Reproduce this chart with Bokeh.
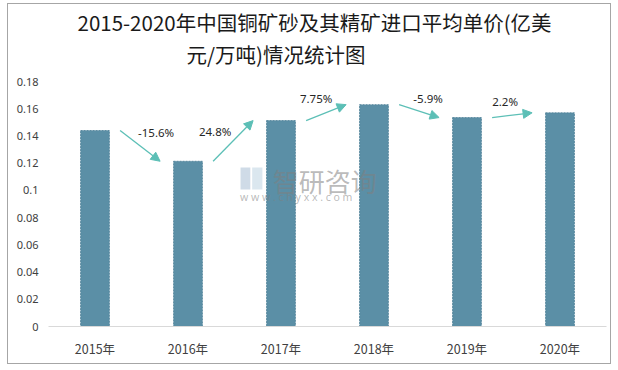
from bokeh.plotting import figure
from bokeh.models import ColumnDataSource, Range1d, FixedTicker, Arrow, NormalHead, Label, Title
from bokeh.core.properties import value
from bokeh.embed import file_html
from bokeh.resources import INLINE

years = ["2015年", "2016年", "2017年", "2018年", "2019年", "2020年"]
prices = [0.144, 0.1214, 0.1513, 0.163, 0.1535, 0.157]
changes = ["-15.6%", "24.8%", "7.75%", "-5.9%", "2.2%"]
y_ticks = [0, 0.02, 0.04, 0.06, 0.08, 0.1, 0.12, 0.14, 0.16, 0.18]
y_tick_labels = ["0", "0.02", "0.04", "0.06", "0.08", "0.1", "0.12", "0.14", "0.16", "0.18"]

title_line1 = "2015-2020年中国铜矿砂及其精矿进口平均单价(亿美"
title_line2 = "元/万吨)情况统计图"

xs = [i + 0.5 for i in range(len(years))]

p = figure(width=604, height=361, output_backend="svg", toolbar_location=None,
           x_range=Range1d(0, len(years)), y_range=Range1d(0, 0.18),
           min_border_left=40, min_border_right=6, min_border_bottom=39, min_border_top=0)
p.styles = {"border": "1px solid #a6a6a6", "margin-left": "7px", "margin-top": "3px"}

def style_title(t, off):
    t.align = "left"
    t.text_font = "Noto Sans CJK SC"
    t.text_font_size = "20.5px"
    t.text_font_style = "normal"
    t.text_color = "#1a1a1a"
    t.standoff = 0
    t.offset = off

p.title.text = title_line1
style_title(p.title, 29)
spacer = Title(text=" ", text_font_size="10px", standoff=0)
p.add_layout(spacer, "above")
t2 = Title(text=title_line2)
style_title(t2, 138)
p.add_layout(t2, "above")

p.outline_line_color = None
p.border_fill_color = "white"
p.grid.visible = False

src = ColumnDataSource(dict(x=xs, top=prices))
p.vbar(x="x", top="top", width=0.31, source=src, fill_color="#5b8fa6",
       line_color="#4b7e95", line_width=0.8, line_dash="2 1")

# x axis
p.xaxis.ticker = FixedTicker(ticks=xs)
p.xaxis.major_label_overrides = {x: y for x, y in zip(xs, years)}
p.xaxis.axis_line_color = "#d9d9d9"
p.xaxis.major_tick_line_color = None
p.xaxis.major_tick_out = 0
p.xaxis.minor_tick_line_color = None
p.xaxis.major_label_text_font = "Noto Sans CJK SC"
p.xaxis.major_label_text_font_size = "12.5px"
p.xaxis.major_label_text_color = "#404040"
p.xaxis.major_label_standoff = 12

# y axis
p.yaxis.ticker = FixedTicker(ticks=y_ticks)
p.yaxis.major_label_overrides = {t: l for t, l in zip(y_ticks, y_tick_labels)}
p.yaxis.axis_line_color = None
p.yaxis.major_tick_line_color = None
p.yaxis.major_tick_out = 0
p.yaxis.minor_tick_line_color = None
p.yaxis.major_label_text_font = "Noto Sans"
p.yaxis.major_label_text_font_size = "11px"
p.yaxis.major_label_text_color = "#404040"
p.yaxis.major_label_standoff = 10

# watermark
p.add_layout(Label(x=2.41, y=0.107, text="智研咨询", text_font="Noto Sans CJK SC",
                   text_font_size="26px", text_color="#7f7f7f", text_alpha=0.55,
                   text_align="left", text_baseline="middle"))
p.add_layout(Label(x=2.06, y=0.0955, text="w w w . c h y x x . c o m", text_font="Noto Sans",
                   text_font_size="10.5px", text_color="#7f7f7f", text_alpha=0.55,
                   text_align="left", text_baseline="middle"))
p.quad(left=[2.065], right=[2.17], bottom=[0.1007], top=[0.1168], fill_color="#9fb8cf", fill_alpha=0.5, line_color=None)
p.quad(left=[2.19], right=[2.30], bottom=[0.1007], top=[0.1168], fill_color="#b8cfe0", fill_alpha=0.5, line_color=None)

# arrows and change labels
teal = "#5cbfb6"
mx, my = [], []
label_dx = [16, -18, -10, 9, -7]
label_dy = [13, 9, 14, 13, 14]
for i in range(len(changes)):
    x0 = xs[i] + 0.27
    x1 = xs[i + 1] - 0.30
    y0 = prices[i]
    y1 = prices[i + 1]
    p.add_layout(Arrow(x_start=x0, y_start=y0, x_end=x1, y_end=y1, line_color=teal, line_width=1.3,
                       end=NormalHead(size=9, fill_color=teal, line_color=teal)))
    mx.append((x0 + x1) / 2)
    my.append((y0 + y1) / 2)

lsrc = ColumnDataSource(dict(x=mx, y=my, t=changes, xo=label_dx, yo=[-v for v in label_dy]))
p.text(x="x", y="y", text="t", source=lsrc, x_offset="xo", y_offset="yo",
       text_font=value("Noto Sans"), text_font_size="11.5px", text_color="#262626",
       text_align="center", text_baseline="middle")

open("out.html", "w").write(file_html(p, INLINE))
